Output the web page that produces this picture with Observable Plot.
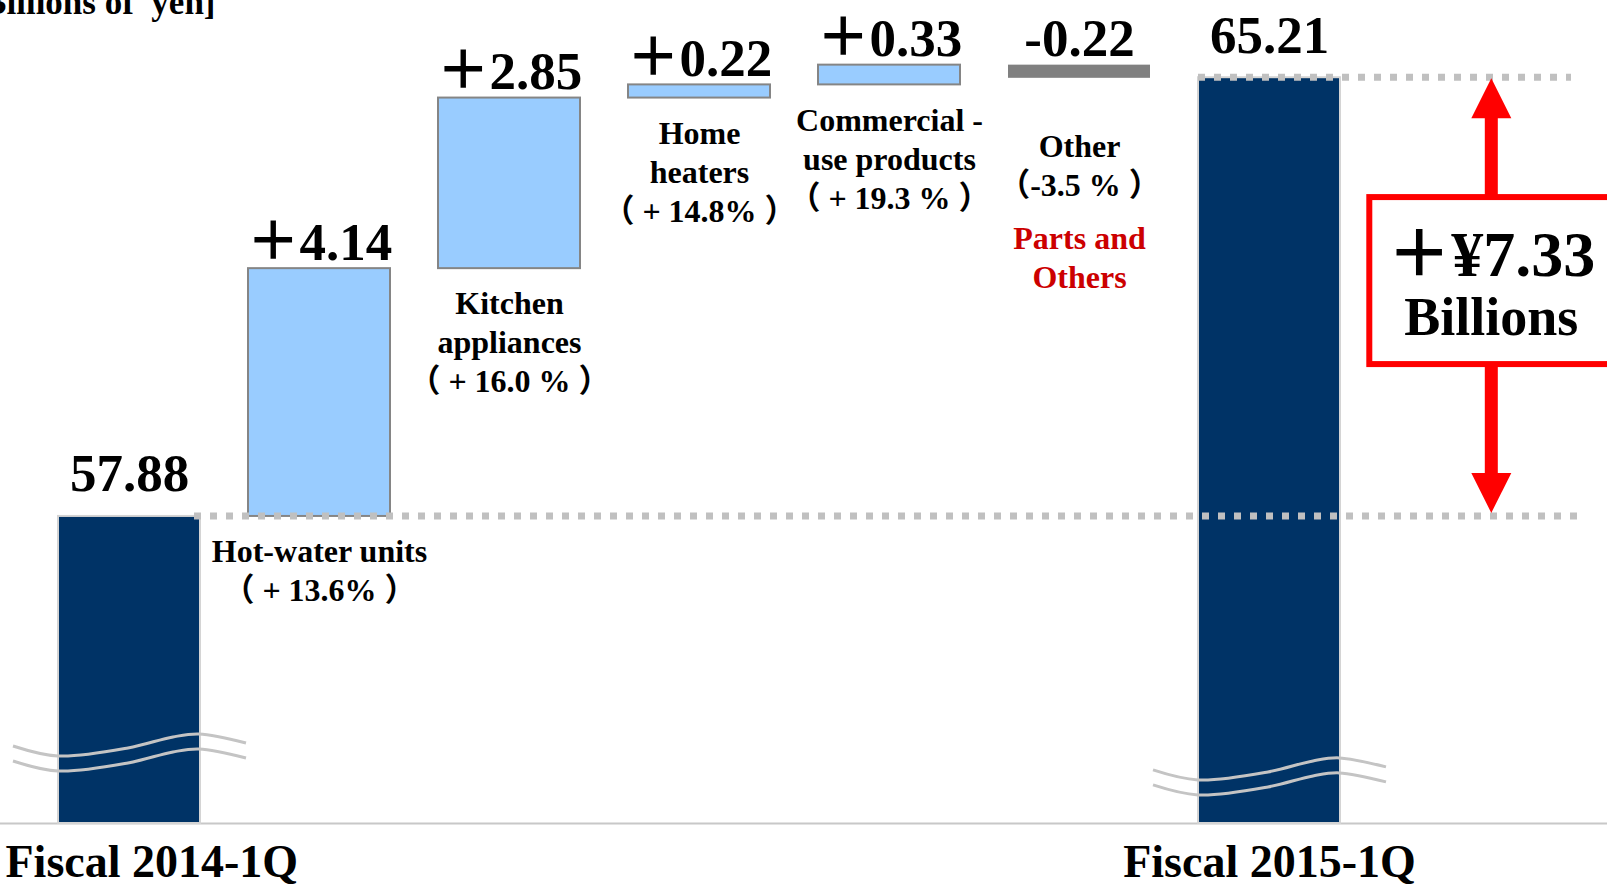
<!DOCTYPE html>
<html>
<head>
<meta charset="utf-8">
<script src="https://cdn.jsdelivr.net/npm/d3@7"></script>
<script src="https://cdn.jsdelivr.net/npm/@observablehq/plot@0.6"></script>
<style>
  html, body { margin: 0; padding: 0; background: #fff; }
  #chart svg { display: block; }
</style>
</head>
<body>
<div id="chart"></div>
<script>
// Net sales bridge: Fiscal 2014-1Q to Fiscal 2015-1Q, billions of yen
const periods = ["Fiscal 2014-1Q", "Fiscal 2015-1Q"];
const periodTotals = [57.88, 65.21];
const segments = ["Hot-water units", "Kitchen\nappliances", "Home\nheaters", "Commercial -\nuse products", "Other"];
const segmentChanges = [4.14, 2.85, 0.22, 0.33, -0.22];
const segmentGrowth = ["（ + 13.6% ）", "（ + 16.0 % ）", "（ + 14.8% ）", "（ + 19.3 % ）", "（-3.5 % ）"];
const otherNote = "Parts and\nOthers";
const unitLabel = "[Billions of  yen]";

// The value axis is broken: total bars start at the floor, not at zero
const axisFloor = 52.75;
const axisCeil = 66.5;

const FONT = "'Liberation Serif', 'Times New Roman', 'Noto Sans CJK JP', serif";
const NAVY = "#003366";
const UP = "#99ccff";
const DOWN = "#808080";
const RED = "#ff0000";

// Build the waterfall rows
const rows = [];
rows.push({key: periods[0], kind: "total", start: axisFloor, end: periodTotals[0], value: periodTotals[0]});
let level = periodTotals[0];
segments.forEach((name, i) => {
  const d = segmentChanges[i];
  rows.push({key: name, kind: d >= 0 ? "up" : "down", start: level, end: level + d, value: d,
             label: name + "\n" + segmentGrowth[i]});
  level += d;
});
rows.push({key: periods[1], kind: "total", start: axisFloor, end: periodTotals[1], value: periodTotals[1]});

const totals = rows.filter(d => d.kind === "total");
const ups = rows.filter(d => d.kind === "up");
const downs = rows.filter(d => d.kind === "down");
const steps = rows.filter(d => d.kind !== "total");

const fmtChange = v => (v >= 0 ? "＋" : "-") + Math.abs(v).toFixed(2);
const barTop = d => Math.max(d.start, d.end);
const barBottom = d => Math.min(d.start, d.end);

// Dotted guides, axis-break squiggles and the difference callout
function decorations(index, scales, values, dimensions) {
  const {x, y} = scales;
  const bw = x.bandwidth();
  const step = x.step();
  const {width} = dimensions;
  const g = d3.create("svg:g");

  const y0 = y(periodTotals[0]);
  const y1 = y(periodTotals[1]);
  const xFirst = x(periods[0]);
  const xLast = x(periods[1]);

  const dotted = (xa, xb, yy) => g.append("line")
    .attr("x1", xa).attr("x2", xb).attr("y1", yy).attr("y2", yy)
    .attr("stroke", "#c0c0c0").attr("stroke-width", 7)
    .attr("stroke-dasharray", "7 9");
  dotted(xFirst + bw - 6, width - 29, y0);
  dotted(xLast, width - 36, y1);

  // squiggles across each total bar, offsets from the bar's left edge
  const wave = [[-45, -10], [0, 0], [70, -8], [115, -19], [141, -22], [188, -13]];
  const breakLevels = [53.87, 53.47];
  const line = d3.line().curve(d3.curveCatmullRom);
  [xFirst, xLast].forEach((xb, i) => {
    const yb = y(breakLevels[i]);
    for (const off of [0, 15]) {
      g.append("path")
        .attr("d", line(wave.map(([dx, dy]) => [xb + dx, yb + dy + off])))
        .attr("fill", "none").attr("stroke", "#c4c4c4").attr("stroke-width", 3);
    }
  });

  // double-headed arrow and boxed difference
  const ax = xLast + bw / 2 + 1.17 * step;
  const boxH = 167, boxHalfW = 122;
  const cy = (y0 + y1) / 2 - 16;
  const boxTop = cy - boxH / 2, boxBottom = cy + boxH / 2;
  const shaft = 13, headW = 40, headH = 40;
  const upTip = y1 + 1, downTip = y0 - 3;
  g.append("rect").attr("x", ax - shaft / 2).attr("y", upTip + headH - 1)
    .attr("width", shaft).attr("height", boxTop - upTip - headH + 1).attr("fill", RED);
  g.append("path").attr("d", `M${ax},${upTip}L${ax + headW / 2},${upTip + headH}L${ax - headW / 2},${upTip + headH}Z`).attr("fill", RED);
  g.append("rect").attr("x", ax - shaft / 2).attr("y", boxBottom)
    .attr("width", shaft).attr("height", downTip - headH - boxBottom + 1).attr("fill", RED);
  g.append("path").attr("d", `M${ax},${downTip}L${ax + headW / 2},${downTip - headH}L${ax - headW / 2},${downTip - headH}Z`).attr("fill", RED);
  g.append("rect").attr("x", ax - boxHalfW).attr("y", boxTop)
    .attr("width", boxHalfW * 2).attr("height", boxH)
    .attr("fill", "white").attr("stroke", RED).attr("stroke-width", 6);

  const diff = periodTotals[1] - periodTotals[0];
  g.append("text").attr("x", ax).attr("y", cy - 5)
    .attr("text-anchor", "middle").attr("font-family", FONT).attr("font-weight", "bold")
    .attr("font-size", 64).attr("fill", "black").text("＋¥" + diff.toFixed(2));
  g.append("text").attr("x", ax).attr("y", cy + 54)
    .attr("text-anchor", "middle").attr("font-family", FONT).attr("font-weight", "bold")
    .attr("font-size", 54).attr("fill", "black").text("Billions");
  return g.node();
}

const textBase = {fontFamily: FONT, fontWeight: "bold", fill: "black"};

const chart = Plot.plot({
  width: 1607,
  height: 887,
  marginTop: 0,
  marginBottom: 64,
  marginLeft: 0,
  marginRight: 0,
  style: {background: "white", fontFamily: FONT, overflow: "hidden"},
  x: {domain: rows.map(d => d.key), range: [7, 1390], padding: 0.255, axis: null},
  y: {domain: [axisFloor, axisCeil], axis: null},
  marks: [
    Plot.ruleY([axisFloor], {stroke: "#c8c8c8", strokeWidth: 2}),
    Plot.barY(totals, {x: "key", y1: "start", y2: "end", fill: NAVY, stroke: "#d4d4d4", strokeWidth: 2, inset: 0}),
    Plot.barY(ups, {x: "key", y1: "start", y2: "end", fill: UP, stroke: "#858585", strokeWidth: 2, inset: 0}),
    Plot.barY(downs, {x: "key", y1: "start", y2: "end", fill: DOWN, inset: 0}),
    decorations,
    // values above the bars
    Plot.text(totals, {x: "key", y: "end", text: d => d.value.toFixed(2), lineAnchor: "bottom", dy: -25, fontSize: 53, ...textBase}),
    Plot.text(steps, {x: "key", y: barTop, text: d => fmtChange(d.value), lineAnchor: "bottom", dy: -9, fontSize: 53, ...textBase}),
    // segment names and growth rates below the bars
    Plot.text(ups, {x: "key", y: barBottom, text: "label", lineAnchor: "top", dy: 18, fontSize: 32, lineHeight: 1.22, ...textBase}),
    Plot.text(downs, {x: "key", y: barBottom, text: "label", lineAnchor: "top", dy: 51, fontSize: 32, lineHeight: 1.22, ...textBase}),
    Plot.text(downs, {x: "key", y: barBottom, text: () => otherNote, lineAnchor: "top", dy: 143, fontSize: 32, lineHeight: 1.22, ...textBase, fill: "#cc0000"}),
    // period labels under the axis
    Plot.text([periods[0]], {frameAnchor: "bottom-left", textAnchor: "start", dx: 5, dy: 53, lineAnchor: "bottom", fontSize: 46, ...textBase}),
    Plot.text(totals.slice(1), {x: "key", y: axisFloor, text: "key", lineAnchor: "bottom", dy: 53, fontSize: 46, ...textBase}),
    // unit label, tucked against the top-left corner
    Plot.text([unitLabel], {frameAnchor: "top-left", textAnchor: "end", dx: 215, dy: 13, lineAnchor: "bottom", fontSize: 35, ...textBase})
  ]
});

document.getElementById("chart").appendChild(chart);
</script>
</body>
</html>
